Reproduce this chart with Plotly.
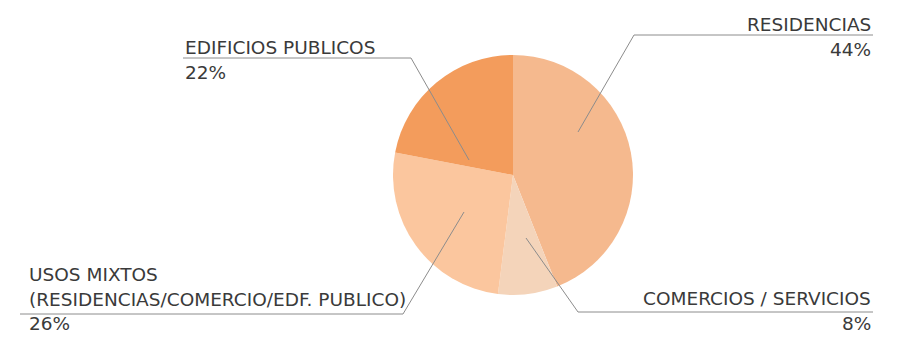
import plotly.graph_objects as go

# Land-use shares
categories = ["RESIDENCIAS", "COMERCIOS / SERVICIOS",
              "USOS MIXTOS<br>(RESIDENCIAS/COMERCIO/EDF. PUBLICO)", "EDIFICIOS PUBLICOS"]
values = [44, 8, 26, 22]
colors = ["#F5B98E", "#F4D4BA", "#FBC69E", "#F39C5C"]

W, H = 913, 342
FONT = "DejaVu Sans, sans-serif"
TXT = "#3a3a3a"
LINE = "#8c8c8c"


def px(x):
    return x / W


def py(y):
    return 1 - y / H


# pie centred at (513, 175) px with radius ~120 px
cx, cy, r = 513, 175, 120

fig = go.Figure(go.Pie(
    values=values,
    labels=categories,
    sort=False,
    direction="clockwise",
    rotation=0,
    marker=dict(colors=colors, line=dict(width=0)),
    textinfo="none",
    hoverinfo="label+percent",
    domain=dict(x=[px(cx - r), px(cx + r)], y=[py(cy + r), py(cy - r)]),
    showlegend=False,
))

# label texts: (lines, x px, top y px, anchor)
labels = [
    (["RESIDENCIAS", f"{values[0]}%"], 873, 12, "right"),
    (["COMERCIOS / SERVICIOS", f"{values[1]}%"], 873, 286, "right"),
    (["USOS MIXTOS", "(RESIDENCIAS/COMERCIO/EDF. PUBLICO)", f"{values[2]}%"], 27, 262, "left"),
    (["EDIFICIOS PUBLICOS", f"{values[3]}%"], 183, 35, "left"),
]
annotations = []
for lines, x, y, anchor in labels:
    for i, t in enumerate(lines):
        annotations.append(dict(
            text=t, x=px(x), y=py(y + i * 24.5), xref="paper", yref="paper",
            xanchor=anchor, yanchor="top", showarrow=False,
            font=dict(family=FONT, size=18.5, color=TXT),
        ))

# leader lines: underline segment then diagonal into the slice
leaders = [
    [(873, 35), (634, 35), (578, 132)],
    [(873, 312), (578, 312), (526, 238)],
    [(20, 314), (403, 314), (464, 212)],
    [(183, 58), (411, 58), (469, 160)],
]
shapes = []
for pts in leaders:
    path = "M " + " L ".join(f"{px(a)},{py(b)}" for a, b in pts)
    shapes.append(dict(type="path", path=path, xref="paper", yref="paper",
                       line=dict(color=LINE, width=1)))

fig.update_layout(
    width=W, height=H,
    margin=dict(l=0, r=0, t=0, b=0),
    paper_bgcolor="white", plot_bgcolor="white",
    annotations=annotations,
    shapes=shapes,
)

fig.write_html("out.html")
